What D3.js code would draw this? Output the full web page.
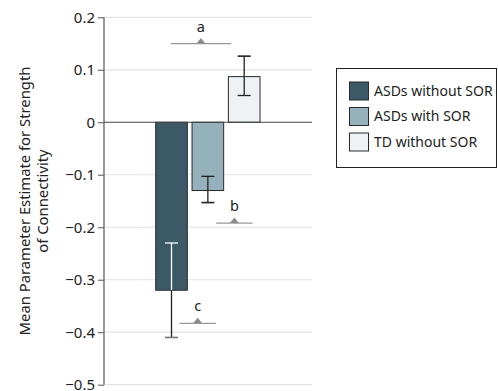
<!DOCTYPE html>
<html>
<head>
<meta charset="utf-8">
<script src="https://cdn.jsdelivr.net/npm/d3@7"></script>
<style>
  html, body { margin: 0; padding: 0; background: #fff; }
  svg { display: block; font-family: "Noto Sans", "Liberation Sans", sans-serif; }
</style>
</head>
<body>
<svg id="chart" width="498" height="391"></svg>
<script>
// Group means and error bars
const groups = ["ASDs without SOR", "ASDs with SOR", "TD without SOR"];
const means = [-0.32, -0.13, 0.087];
const errLow = [-0.41, -0.153, 0.051];
const errHigh = [-0.23, -0.103, 0.126];
const colors = ["#3b5966", "#95b1bc", "#eef2f5"];

const yTicks = [0.2, 0.1, 0, -0.1, -0.2, -0.3, -0.4, -0.5];

// Significance markers: label, y value, centre (group index units), half width
const markLabels = ["a", "b", "c"];
const markY = [0.15, -0.192, -0.383];
const markCenter = [0.81, 1.73, 0.72];
const markHalf = [0.83, 0.5, 0.5];

const svg = d3.select("#chart");
const x0 = 104, x1 = 312;

const y = d3.scaleLinear().domain([-0.5, 0.2]).range([384.7, 17.3]);
const x = d3.scaleBand().domain(groups).range([155.7, 260]).paddingInner(0.13).paddingOuter(0);
const xi = d3.scaleLinear().domain([0, 1]).range([x(groups[0]) + x.bandwidth() / 2, x(groups[1]) + x.bandwidth() / 2]);

const fmt = v => v === 0 ? "0" : d3.format(".1f")(v);

// gridlines
svg.append("g").selectAll("line").data(yTicks.filter(d => d !== 0)).join("line")
  .attr("x1", x0).attr("x2", x1)
  .attr("y1", d => y(d)).attr("y2", d => y(d))
  .attr("stroke", "#e2e2e2").attr("stroke-width", 1.2);

// y axis
const axis = svg.append("g").attr("transform", `translate(${x0},0)`)
  .call(d3.axisLeft(y).tickValues(yTicks).tickFormat(fmt).tickSize(6).tickPadding(3));
axis.select(".domain").attr("stroke", "#777").attr("stroke-width", 1.5).attr("d", `M0,${y(0.2)}V${y(-0.5)}`);
axis.selectAll(".tick line").attr("stroke", "#555");
axis.selectAll(".tick text").attr("fill", "#222").style("font-size", "15px")
  .style("font-family", "\"Noto Sans\", sans-serif");

// bars
svg.append("g").selectAll("rect").data(groups).join("rect")
  .attr("x", d => x(d))
  .attr("width", x.bandwidth())
  .attr("y", (d, i) => y(Math.max(0, means[i])))
  .attr("height", (d, i) => Math.abs(y(means[i]) - y(0)))
  .attr("fill", (d, i) => colors[i])
  .attr("stroke", "#2a2a2a").attr("stroke-width", 1);

// zero line
svg.append("line").attr("x1", x0).attr("x2", x1).attr("y1", y(0)).attr("y2", y(0))
  .attr("stroke", "#444").attr("stroke-width", 1.2);

// error bars: segment inside the dark bar drawn white
const eb = svg.append("g");
groups.forEach((g, i) => {
  const cx = x(g) + x.bandwidth() / 2;
  const inner = means[i] < 0 ? errHigh[i] : errLow[i];
  const outer = means[i] < 0 ? errLow[i] : errHigh[i];
  const innerColor = i === 0 ? "#ffffff" : "#222";
  eb.append("line").attr("x1", cx).attr("x2", cx).attr("y1", y(means[i])).attr("y2", y(inner))
    .attr("stroke", innerColor).attr("stroke-width", 1.3);
  eb.append("line").attr("x1", cx - 6.5).attr("x2", cx + 6.5).attr("y1", y(inner)).attr("y2", y(inner))
    .attr("stroke", innerColor).attr("stroke-width", 1.3);
  eb.append("line").attr("x1", cx).attr("x2", cx).attr("y1", y(means[i])).attr("y2", y(outer))
    .attr("stroke", "#222").attr("stroke-width", 1.3);
  eb.append("line").attr("x1", cx - 6.5).attr("x2", cx + 6.5).attr("y1", y(outer)).attr("y2", y(outer))
    .attr("stroke", i === 0 ? "#777" : "#222").attr("stroke-width", 1.6);
});

// significance markers
const mk = svg.append("g");
markLabels.forEach((lab, i) => {
  const cx = xi(markCenter[i]);
  const hw = xi(markHalf[i]) - xi(0);
  const yy = y(markY[i]);
  mk.append("line").attr("x1", cx - hw).attr("x2", cx + hw).attr("y1", yy).attr("y2", yy)
    .attr("stroke", "#999").attr("stroke-width", 1.2);
  mk.append("path").attr("d", `M${cx - 4.5},${yy}L${cx},${yy - 5.5}L${cx + 4.5},${yy}Z`).attr("fill", "#8a8a8a");
  mk.append("text").attr("x", cx).attr("y", yy - 12).attr("text-anchor", "middle")
    .style("font-size", "14.5px").attr("fill", "#222").text(lab);
});

// y axis title
const title = svg.append("text").attr("transform", `translate(30,${(y(0.2) + y(-0.5)) / 2}) rotate(-90)`)
  .attr("text-anchor", "middle").style("font-size", "14.8px").attr("fill", "#222");
title.append("tspan").attr("x", 0).attr("dy", 0).text("Mean Parameter Estimate for Strength");
title.append("tspan").attr("x", 0).attr("dy", 18).text("of Connectivity");

// legend
const lg = svg.append("g");
lg.append("rect").attr("x", 336.5).attr("y", 68.5).attr("width", 160).attr("height", 99)
  .attr("fill", "#fff").attr("stroke", "#222").attr("stroke-width", 1);
groups.forEach((g, i) => {
  const ly = 82 + i * 25.5;
  lg.append("rect").attr("x", 349.5).attr("y", ly).attr("width", 19).attr("height", 18)
    .attr("fill", colors[i]).attr("stroke", "#2a2a2a").attr("stroke-width", 1);
  lg.append("text").attr("x", 374).attr("y", ly + 9).attr("dy", "0.35em")
    .style("font-size", "14px").attr("fill", "#222").text(g);
});
</script>
</body>
</html>
